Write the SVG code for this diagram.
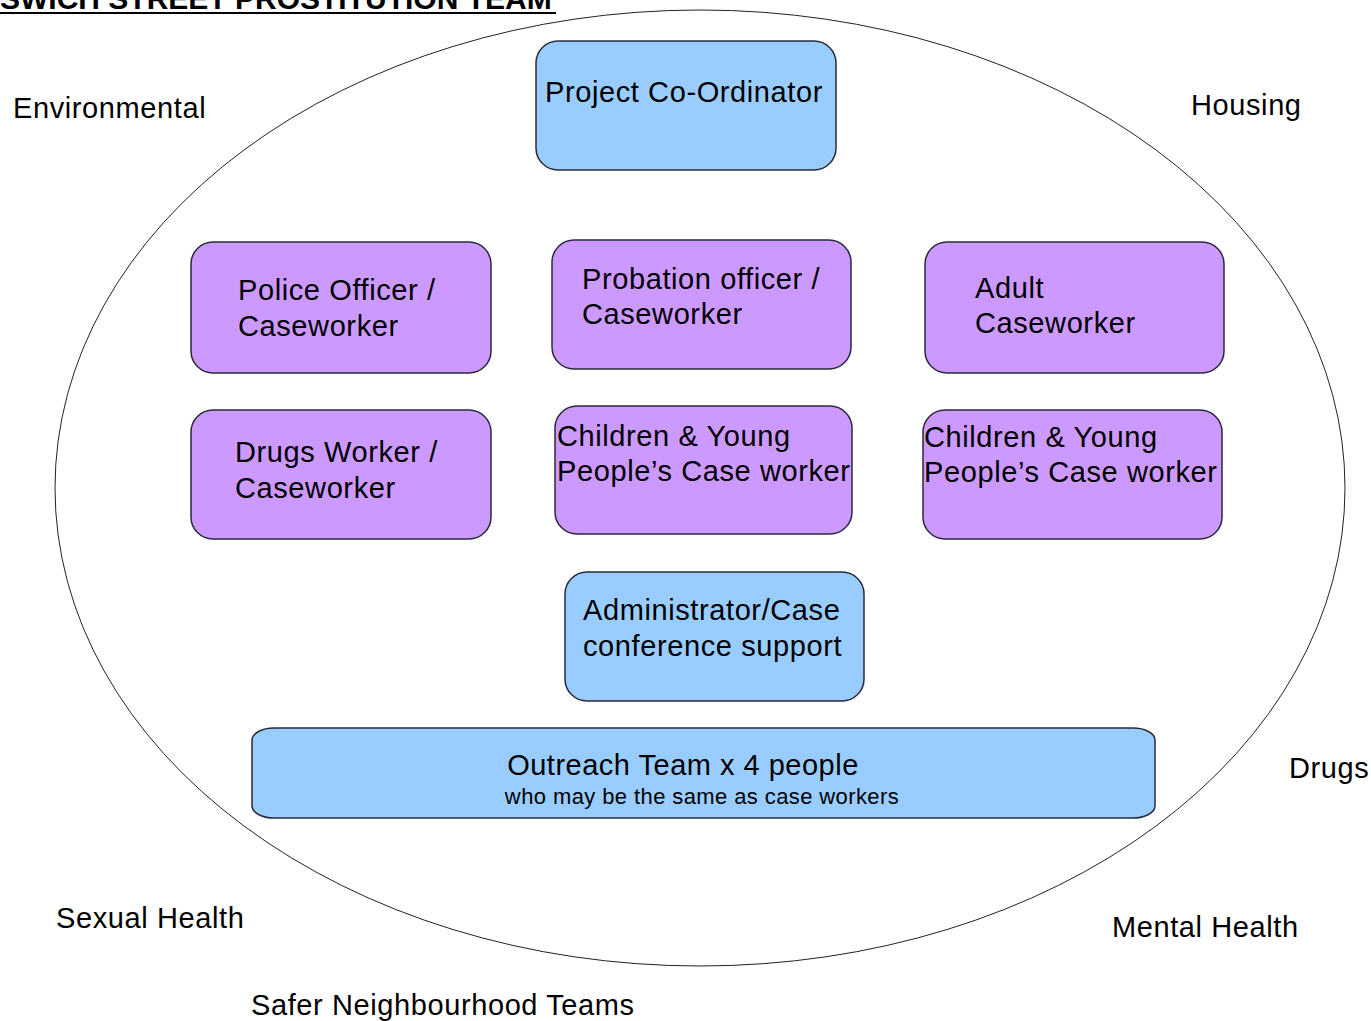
<svg xmlns="http://www.w3.org/2000/svg" width="1371" height="1021" viewBox="0 0 1371 1021">
<style>
text{font-family:"Liberation Sans",Arial,sans-serif;fill:#000}
.lbl{font-size:29px;letter-spacing:0.6px}
.bt{font-size:29px;letter-spacing:0.6px}
.blue{fill:#99CCFF;stroke:#2a2a3a;stroke-width:1.5}
.purple{fill:#CC99FF;stroke:#2a2a3a;stroke-width:1.5}
</style>
<rect width="1371" height="1021" fill="#fff"/>
<g id="title">
<text x="0" y="9" font-size="30" font-weight="bold">SWICH STREET PROSTITUTION TEAM</text>
<line x1="0" y1="13" x2="556" y2="13" stroke="#000" stroke-width="2"/>
</g>
<g id="boundary">
<ellipse cx="700" cy="488" rx="645" ry="478" fill="none" stroke="#222" stroke-width="1"/>
</g>
<g id="connectors"></g>
<g id="project-coordinator">
<rect class="blue" x="536" y="41" width="300" height="129" rx="22" ry="22"/>
<text class="bt" x="545" y="102">Project Co-Ordinator</text>
</g>
<g id="police-officer">
<rect class="purple" x="191" y="242" width="300" height="131" rx="22" ry="22"/>
<text class="bt" x="238" y="300">Police Officer /</text>
<text class="bt" x="238" y="336">Caseworker</text>
</g>
<g id="probation-officer">
<rect class="purple" x="552" y="240" width="299" height="129" rx="22" ry="22"/>
<text class="bt" x="582" y="289">Probation officer /</text>
<text class="bt" x="582" y="324">Caseworker</text>
</g>
<g id="adult-caseworker">
<rect class="purple" x="925" y="242" width="299" height="131" rx="22" ry="22"/>
<text class="bt" x="975" y="298">Adult</text>
<text class="bt" x="975" y="333">Caseworker</text>
</g>
<g id="drugs-worker">
<rect class="purple" x="191" y="410" width="300" height="129" rx="22" ry="22"/>
<text class="bt" x="235" y="462">Drugs Worker /</text>
<text class="bt" x="235" y="498">Caseworker</text>
</g>
<g id="cyp-caseworker-1">
<rect class="purple" x="555" y="406" width="297" height="128" rx="22" ry="22"/>
<text class="bt" x="557" y="446">Children &amp; Young</text>
<text class="bt" x="557" y="481">People’s Case worker</text>
</g>
<g id="cyp-caseworker-2">
<rect class="purple" x="923" y="410" width="299" height="129" rx="22" ry="22"/>
<text class="bt" x="924" y="447">Children &amp; Young</text>
<text class="bt" x="924" y="482">People’s Case worker</text>
</g>
<g id="administrator">
<rect class="blue" x="565" y="572" width="299" height="129" rx="22" ry="22"/>
<text class="bt" x="583" y="620">Administrator/Case</text>
<text class="bt" x="583" y="656">conference support</text>
</g>
<g id="outreach-team">
<rect class="blue" x="252" y="728" width="903" height="90" rx="22" ry="12"/>
<text x="683" y="775" font-size="29" letter-spacing="0.5" text-anchor="middle">Outreach Team x 4 people</text>
<text x="702" y="804" font-size="22" letter-spacing="0.4" text-anchor="middle">who may be the same as case workers</text>
</g>
<g id="labels">
<text class="lbl" x="13" y="118">Environmental</text>
<text class="lbl" x="1191" y="115">Housing</text>
<text class="lbl" x="1289" y="778">Drugs</text>
<text class="lbl" x="56" y="928">Sexual Health</text>
<text class="lbl" x="1112" y="937">Mental Health</text>
<text class="lbl" x="251" y="1015">Safer Neighbourhood Teams</text>
</g>
</svg>
